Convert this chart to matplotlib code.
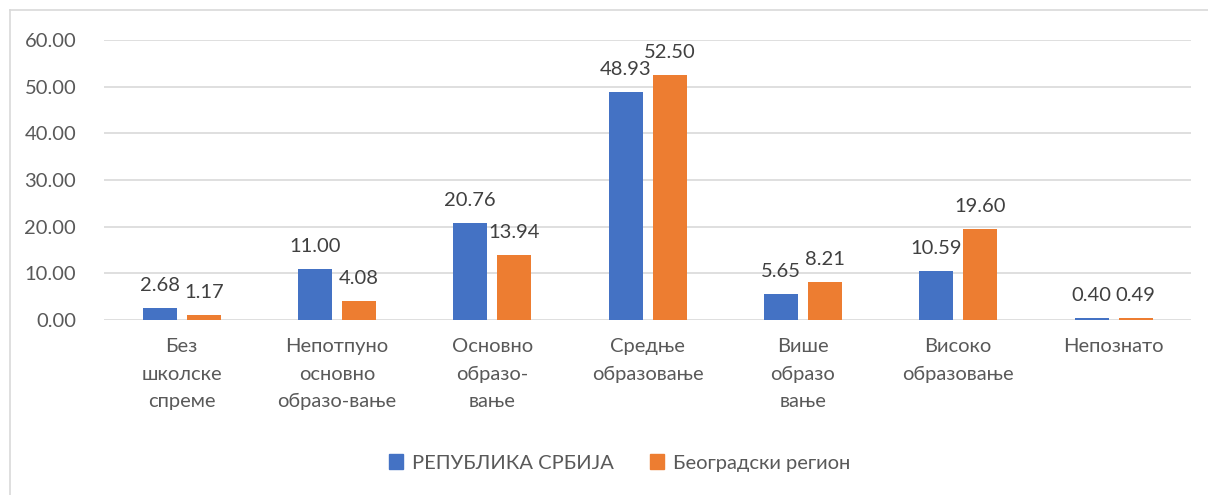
import numpy as np
import matplotlib.pyplot as plt
from matplotlib.lines import Line2D
from matplotlib.patches import Patch

# Data
categories = [
    "Без\nшколске\nспреме",
    "Непотпуно\nосновно\nобразо-вање",
    "Основно\nобразо-\nвање",
    "Средње\nобразовање",
    "Више\nобразо\nвање",
    "Високо\nобразовање",
    "Непознато",
]
serbia = [2.68, 11.00, 20.76, 48.93, 5.65, 10.59, 0.40]
belgrade = [1.17, 4.08, 13.94, 52.50, 8.21, 19.60, 0.49]
series_names = ["РЕПУБЛИКА СРБИЈА", "Београдски регион"]
yticks = [0, 10, 20, 30, 40, 50, 60]

BLUE = "#4472C4"
ORANGE = "#ED7D31"
GRID = "#D9D9D9"
TXT = "#595959"
LBL = "#404040"
FS = 14.5

plt.rcParams["font.family"] = ["Lato", "DejaVu Sans"]

fig = plt.figure(figsize=(12.08, 4.95), dpi=100)
ax = fig.add_axes([0.0861, 0.3535, 0.9, 0.5655])

x = np.arange(len(categories))
w = 0.219
off = 0.1417
b1 = ax.bar(x - off, serbia, w, color=BLUE, zorder=3)
b2 = ax.bar(x + off, belgrade, w, color=ORANGE, zorder=3)

# value labels above bars
for bars, vals in ((b1, serbia), (b2, belgrade)):
    for rect, v in zip(bars, vals):
        ax.annotate(f"{v:.2f}", (rect.get_x() + rect.get_width() / 2, v),
                    xytext=(0, 10), textcoords="offset points",
                    ha="center", va="bottom", fontsize=FS, color=LBL)

ax.set_xlim(-0.5, len(categories) - 0.5)
ax.set_ylim(0, 60)
ax.set_yticks(yticks)
ax.set_yticklabels([f"{t:.2f}" for t in yticks], fontsize=FS, color=TXT)
ax.set_xticks(x)
ax.set_xticklabels(categories, fontsize=FS, color=TXT, linespacing=1.75, va="top")
ax.tick_params(axis="both", length=0)
ax.tick_params(axis="y", pad=20)
ax.tick_params(axis="x", pad=13)
ax.yaxis.grid(True, color=GRID, linewidth=1.2, zorder=0)
for s in ax.spines.values():
    s.set_visible(False)

# legend
handles = [Patch(color=BLUE), Patch(color=ORANGE)]
fig.legend(handles, series_names, loc="center", bbox_to_anchor=(0.513, 1 - 463 / 495),
           ncol=2, frameon=False, fontsize=FS, labelcolor=TXT,
           handlelength=0.7, handleheight=0.7, handletextpad=0.45, columnspacing=1.8)

# chart frame (only top and left edge visible in crop)
fig.add_artist(Line2D([10 / 1208, 10 / 1208], [0, 1 - 10 / 495], color=GRID, lw=1.2))
fig.add_artist(Line2D([10 / 1208, 1], [1 - 10 / 495, 1 - 10 / 495], color=GRID, lw=1.2))

fig.savefig("out.png", dpi=100)
